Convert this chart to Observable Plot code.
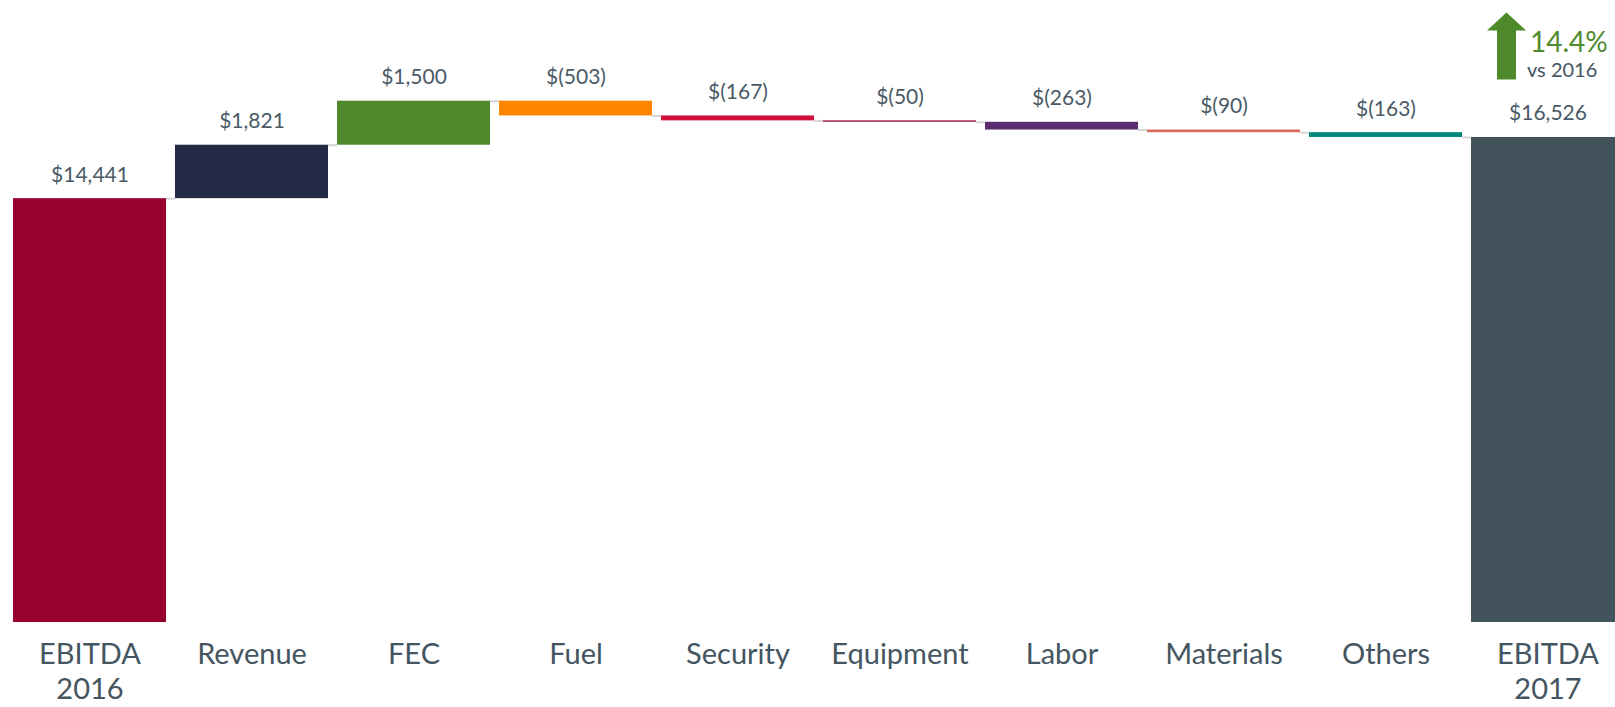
<!DOCTYPE html>
<html>
<head>
<meta charset="utf-8">
<script src="https://cdn.jsdelivr.net/npm/d3@7"></script>
<script src="https://cdn.jsdelivr.net/npm/@observablehq/plot@0.6"></script>
<style>
  html, body { margin: 0; padding: 0; background: #fff; overflow: hidden; }
  #chart svg { display: block; }
</style>
</head>
<body>
<div id="chart"></div>
<script>
// ---- data ----
const categories = ["EBITDA 2016", "Revenue", "FEC", "Fuel", "Security", "Equipment", "Labor", "Materials", "Others", "EBITDA 2017"];
const values = [14441, 1821, 1500, -503, -167, -50, -263, -90, -163, 16526];
const kinds = ["total", "delta", "delta", "delta", "delta", "delta", "delta", "delta", "delta", "total"];
const colors = ["#98002E", "#232A45", "#4E8A2B", "#FF8400", "#D0103A", "#9B1B4E", "#5B2C6F", "#D9685E", "#00877A", "#42535C"];
const compareLabel = "vs 2016";

// ---- layout ----
const xRange = [11, 1626.5];
const padIn = 0.0585;
const step = (xRange[1] - xRange[0]) / (categories.length - padIn);
const bandwidth = step * (1 - padIn);

// ---- build waterfall rows ----
let running = 0;
const rows = categories.map((c, i) => {
  const v = values[i];
  let start, end;
  if (kinds[i] === "total") { start = 0; end = v; running = v; }
  else { start = running; end = running + v; running = end; }
  return {cat: c, value: v, kind: kinds[i], color: colors[i], start, end, top: Math.max(start, end)};
});
const fmt = d3.format(",");
const labelOf = d => d.value < 0 ? `$(${fmt(-d.value)})` : `$${fmt(d.value)}`;

const links = rows.slice(0, -1).map((d, i) => ({x1: d.cat, x2: rows[i + 1].cat, y: d.end}));

const first = rows[0], last = rows[rows.length - 1];
const pct = (last.value / first.value - 1) * 100;
const annotation = [{cat: last.cat, y: last.end, pct: `${pct.toFixed(1)}%`, sub: compareLabel}];

const arrowSymbol = {
  draw(ctx) {
    ctx.moveTo(0, -33.5);
    ctx.lineTo(19.5, -15.5);
    ctx.lineTo(9.5, -15.5);
    ctx.lineTo(9.5, 33.5);
    ctx.lineTo(-9.5, 33.5);
    ctx.lineTo(-9.5, -15.5);
    ctx.lineTo(-19.5, -15.5);
    ctx.closePath();
  }
};

const chart = Plot.plot({
  width: 1615,
  height: 707,
  marginTop: 35,
  marginBottom: 85,
  marginLeft: 11,
  marginRight: 0,
  style: {fontFamily: "Lato, 'Open Sans', sans-serif", background: "#fff"},
  x: {domain: categories, range: xRange, paddingInner: padIn, paddingOuter: 0},
  y: {domain: [0, 20000], axis: null},
  color: {type: "identity"},
  marks: [
    Plot.ruleY(links, {x1: "x1", x2: "x2", y: "y", insetLeft: bandwidth, insetRight: bandwidth, stroke: "#d6d6d6", strokeWidth: 2}),
    Plot.barY(rows, {x: "cat", y1: "start", y2: "end", fill: "color"}),
    Plot.text(rows, {x: "cat", y: "top", text: labelOf, dy: -17, lineAnchor: "bottom", fontSize: 21, fill: "#4A5A66"}),
    Plot.axisX({tickSize: 0, tickPadding: 17, fontSize: 29, lineHeight: 1.2, color: "#44555F",
      tickFormat: d => d.replace(" ", "\n")}),
    Plot.dot(annotation, {x: "cat", y: "y", dx: -41.5, dy: -91.5, symbol: arrowSymbol, r: 20, fill: "#4E8A2B", stroke: "none"}),
    Plot.text(annotation, {x: "cat", y: "y", text: "pct", dx: -18, dy: -85, textAnchor: "start", lineAnchor: "bottom", fontSize: 28, fill: "#4E8A2B"}),
    Plot.text(annotation, {x: "cat", y: "y", text: "sub", dx: -21, dy: -60, textAnchor: "start", lineAnchor: "bottom", fontSize: 20, fill: "#44555F"})
  ]
});
document.getElementById("chart").append(chart);
</script>
</body>
</html>
